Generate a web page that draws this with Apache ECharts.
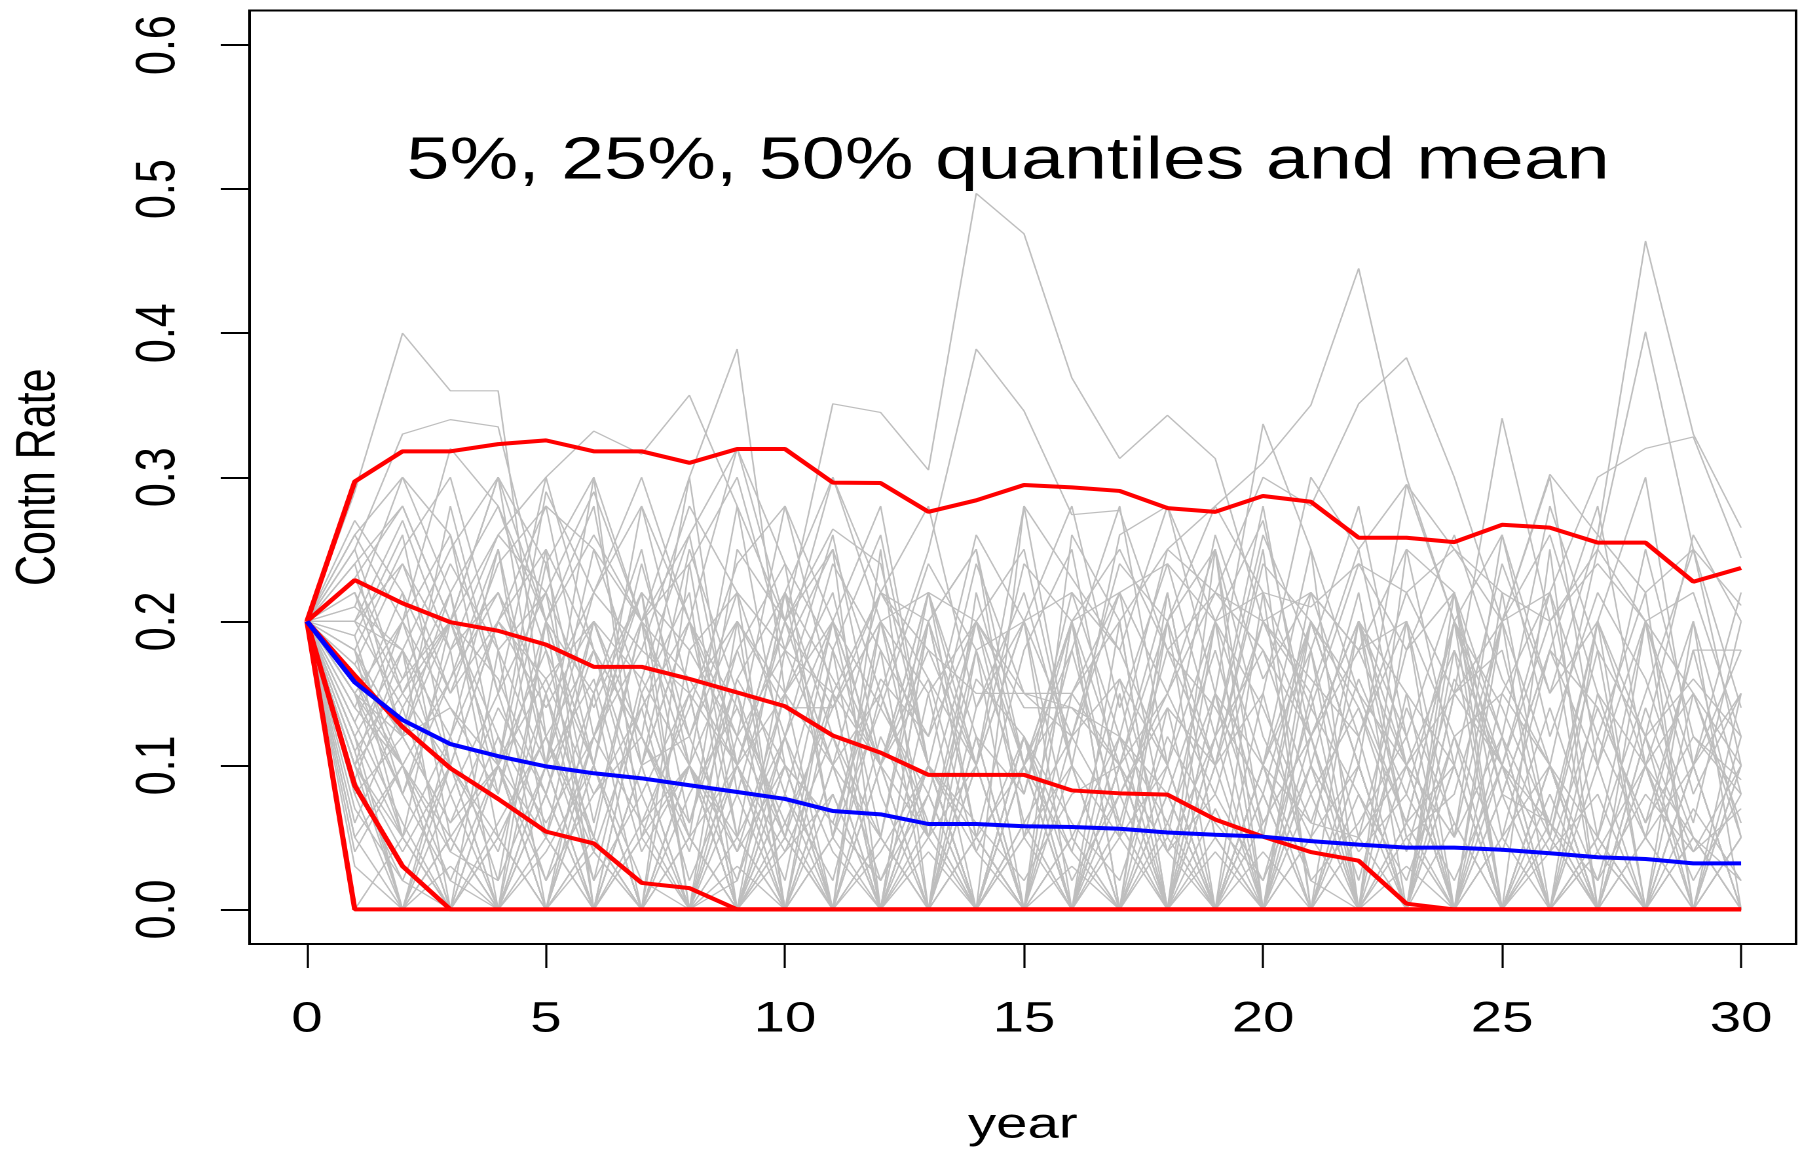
<!DOCTYPE html>
<html>
<head>
<meta charset="utf-8">
<script src="https://cdn.jsdelivr.net/npm/echarts@6/dist/echarts.min.js"></script>
<style>
html,body{margin:0;padding:0;background:#fff;overflow:hidden;width:1800px;height:1152px;}
#chart{width:1374px;height:1152px;transform:scaleX(1.31004);transform-origin:0 0;}
</style>
</head>
<body>
<div id="chart"></div>
<script>
// ---- data ----
const years = [0,1,2,3,4,5,6,7,8,9,10,11,12,13,14,15,16,17,18,19,20,21,22,23,24,25,26,27,28,29,30];
const xTicks = [0,5,10,15,20,25,30];
const yTicks = [0,0.1,0.2,0.3,0.4,0.5,0.6];
const titleText = '5%, 25%, 50% quantiles and mean';

// simulated paths (gray)
const grayPaths = [
[0.2,0.29,0.40,0.36,0.36,0.12,0.05,0,0.10,0,0,0.08,0,0,0.12,0,0,0,0.06,0,0,0,0.1,0,0,0,0,0.05,0,0,0],
[0.2,0.25,0.33,0.34,0.335,0.2,0.26,0.2,0.1,0,0.05,0,0,0,0,0.1,0,0,0,0,0,0.08,0,0,0,0,0,0,0,0,0],
[0.2,0.22,0.15,0.1,0.2,0.28,0.25,0.2,0.3,0.389,0.15,0.26,0.1,0,0.05,0,0,0.1,0,0,0,0,0,0,0,0,0,0,0,0,0],
[0.2,0.24,0.28,0.2,0.26,0.3,0.332,0.316,0.357,0.28,0.2,0.264,0.24,0.1,0.05,0,0,0,0,0.07,0,0,0,0,0,0,0.06,0,0,0,0],
[0.2,0.18,0.25,0.3,0.18,0.22,0.29,0.2,0.26,0.32,0.2,0.351,0.345,0.305,0.497,0.469,0.369,0.313,0.343,0.313,0.2,0.12,0.18,0.1,0.05,0.12,0,0,0,0,0],
[0.2,0.26,0.3,0.22,0.28,0.2,0.15,0.22,0.18,0.12,0.18,0.1,0.15,0.249,0.389,0.346,0.274,0.277,0.18,0.1,0.2,0.15,0.25,0.295,0.2,0.1,0,0.05,0,0,0],
[0.2,0.15,0.1,0.05,0,0.1,0,0.15,0.05,0,0.12,0.2,0.1,0.2,0.25,0.1,0.15,0.2,0.25,0.28,0.31,0.35,0.445,0.3,0.2,0.12,0.05,0,0.1,0,0],
[0.2,0.1,0,0.05,0.1,0,0,0.1,0.2,0.1,0,0.05,0.2,0.1,0,0.1,0.2,0.25,0.18,0.22,0.3,0.28,0.351,0.383,0.3,0.2,0.26,0.15,0.1,0.05,0],
[0.2,0.1,0.05,0,0,0.08,0,0,0,0.1,0,0,0,0.06,0,0,0,0.1,0,0.15,0.337,0.25,0.15,0.1,0.05,0.2,0.302,0.26,0.464,0.33,0.265],
[0.2,0.12,0,0.1,0.05,0,0.1,0,0,0,0.1,0,0.05,0,0,0.12,0,0,0,0,0.1,0,0.05,0,0.15,0.341,0.2,0.25,0.401,0.25,0.211],
[0.2,0.16,0.1,0,0,0,0.05,0,0.1,0,0,0,0.1,0,0.05,0,0,0.08,0,0,0.1,0.2,0.1,0.295,0.25,0.2,0.22,0.3,0.32,0.328,0.244],
[0.2,0.2,0.18,0.25,0.3,0.1,0.22,0.28,0.15,0.1,0.22,0.3,0.2,0.22,0.1,0.28,0.23,0.18,0.28,0.2,0.27,0.12,0.2,0.15,0.1,0,0,0,0,0,0],
[0.2,0.1,0.2,0.1,0,0.15,0.05,0.2,0,0.1,0.22,0.05,0,0.15,0,0,0.2,0,0.1,0,0,0.15,0,0,0.1,0,0,0,0.2,0,0],
[0.2,0.18,0.05,0.2,0.1,0.25,0,0.15,0.22,0,0.1,0,0.25,0,0.1,0.2,0,0,0.22,0.05,0,0,0.12,0,0,0.1,0,0.2,0,0,0.15],
[0.2,0.08,0,0.12,0.25,0.1,0.3,0.05,0.1,0.28,0.1,0,0.2,0.1,0,0.28,0.1,0,0,0.1,0.25,0,0,0.2,0,0,0,0,0,0.1,0],
[0.2,0.14,0.22,0.05,0,0.2,0.1,0,0.24,0.05,0,0.18,0,0,0.22,0.1,0,0.15,0,0.25,0,0,0.2,0,0.1,0,0.25,0,0,0,0],
[0.2,0.05,0,0,0.1,0,0.15,0,0,0.15,0,0.1,0,0.2,0.05,0,0.1,0,0.2,0,0.22,0,0,0,0.2,0,0,0.1,0,0.2,0],
[0.2,0,0,0.05,0,0,0.1,0,0,0,0.08,0,0,0,0,0,0.05,0,0,0,0,0,0,0.06,0,0,0,0,0,0,0],
[0.2,0,0.05,0,0.1,0,0,0.05,0,0,0,0.1,0,0,0,0.05,0,0,0,0,0.08,0,0,0,0,0,0.05,0,0,0,0],
[0.2,0.12,0.05,0,0,0.05,0,0,0.05,0,0,0,0,0.1,0,0,0,0,0,0.05,0,0,0,0,0,0.08,0,0,0,0,0.05],
[0.2,0.22,0.12,0.28,0.15,0.05,0.2,0.1,0.25,0.15,0.05,0.2,0.28,0.1,0,0.1,0.2,0.05,0,0.2,0.1,0.25,0,0,0.22,0,0.1,0,0,0.1,0.18],
[0.2,0.25,0.15,0.2,0.3,0.2,0.1,0.24,0.12,0.2,0.14,0.14,0.2,0.15,0.2,0.14,0.14,0.12,0.25,0.22,0.2,0.22,0.18,0.2,0.12,0.15,0.1,0,0,0,0.1],
[0.2,0.19,0.26,0.1,0.2,0.25,0.18,0.12,0.3,0.08,0.2,0.25,0,0.2,0.25,0.05,0.18,0.28,0.1,0,0.15,0.3,0.25,0.1,0,0.2,0.3,0.1,0.25,0.12,0.08],
[0.2,0.1,0.15,0.22,0.05,0.12,0.18,0.08,0,0.12,0.05,0,0.12,0.05,0,0.12,0,0.1,0,0.12,0,0.05,0.1,0,0.12,0,0,0.05,0,0,0.05],
[0.2,0.15,0.05,0.12,0.02,0.2,0,0.1,0,0.02,0.15,0,0,0.08,0,0,0,0.12,0,0,0,0,0.08,0,0,0,0,0,0,0.1,0],
[0.2,0.09,0.18,0,0.18,0,0.12,0.22,0,0.2,0,0.15,0,0,0.18,0,0,0.2,0,0,0,0.12,0,0,0,0.12,0,0,0,0,0],
[0.2,0.2,0.27,0.18,0.22,0.15,0.22,0.18,0.15,0.2,0.15,0.2,0.1,0.18,0.15,0.15,0.15,0.22,0.24,0.2,0.22,0.21,0.24,0.22,0.25,0.22,0.2,0.24,0.2,0.15,0.1],
[0.2,0.17,0.12,0.14,0.1,0.16,0.08,0.12,0.05,0.1,0.15,0.1,0.05,0,0.1,0,0.05,0.12,0.08,0,0.1,0.06,0.05,0.1,0,0.08,0.06,0,0,0.07,0.02],
[0.2,0.05,0.1,0,0.05,0,0,0,0.1,0.05,0,0,0,0.05,0.1,0,0,0.05,0.1,0,0,0,0.1,0,0,0.05,0,0,0.05,0,0],
[0.2,0.13,0.2,0.14,0.08,0.24,0.1,0,0.18,0.22,0,0.05,0.18,0,0.14,0.2,0.05,0,0.14,0.1,0,0.18,0,0.1,0.18,0,0,0.15,0.05,0,0.12],
[0.2,0.21,0.3,0.26,0.1,0.29,0.22,0.3,0.2,0.12,0.28,0.2,0.05,0.22,0.12,0,0.26,0.2,0,0.12,0.28,0.1,0,0.25,0.22,0.05,0.18,0.28,0.1,0,0],
[0.2,0.11,0,0.08,0,0,0.05,0,0,0,0,0,0,0,0,0,0,0,0,0,0,0,0,0,0,0,0,0,0,0,0],
[0.2,0.07,0.02,0,0,0,0,0,0.05,0,0,0,0,0,0,0.06,0,0,0,0,0,0,0,0,0,0,0,0,0,0,0],
[0.2,0.16,0.08,0.02,0.1,0.05,0,0,0,0.08,0,0,0.05,0,0,0,0,0,0.05,0,0,0,0,0.05,0,0,0,0,0,0.05,0],
[0.2,0.23,0.16,0.24,0.18,0.1,0.25,0.15,0.05,0.25,0.2,0.1,0.22,0.2,0.05,0,0.2,0.22,0.05,0.2,0,0.1,0.22,0.05,0,0.22,0.05,0.18,0,0.15,0.05],
[0.2,0.18,0.1,0.16,0.25,0.05,0.15,0.25,0.1,0,0.18,0.25,0.15,0.05,0.2,0.25,0.1,0.05,0.2,0.25,0.05,0.2,0.1,0,0.15,0.2,0.1,0.05,0.2,0.1,0.15],
[0.2,0.26,0.2,0.32,0.28,0.18,0.1,0.28,0.2,0.32,0.24,0.18,0.26,0.1,0.24,0.15,0.12,0.24,0.2,0.1,0.24,0.2,0.15,0.06,0.2,0.26,0.15,0.2,0.3,0.1,0.22],
[0.2,0,0,0,0.05,0,0,0.1,0,0,0.06,0,0,0,0,0,0,0,0,0,0,0,0,0,0,0,0.05,0,0,0,0],
[0.2,0.15,0.08,0.18,0,0.1,0,0.05,0.15,0,0.05,0.15,0,0.1,0,0.05,0.1,0,0,0.15,0,0.05,0,0.15,0,0,0.1,0,0.12,0,0],
[0.2,0.2,0.24,0.15,0.2,0.14,0.2,0.1,0.12,0.22,0.18,0.15,0.1,0.22,0.2,0.15,0.14,0.1,0.15,0.22,0.18,0.12,0.2,0.1,0.15,0.1,0.22,0.12,0.05,0.18,0.18],
[0.2,0.24,0.12,0.22,0.08,0.2,0.28,0.1,0.2,0.05,0.22,0.12,0.05,0.2,0.1,0,0.15,0.1,0.22,0.05,0,0.2,0.1,0,0.18,0.1,0.2,0,0.1,0.2,0.08],
[0.2,0.06,0.14,0.04,0.12,0.02,0.08,0.14,0.02,0.1,0.04,0.12,0.02,0.08,0,0.1,0.04,0,0.08,0,0.1,0.02,0,0.06,0.1,0,0.04,0.08,0,0.05,0],
[0.2,0.19,0.08,0.16,0.22,0.12,0.02,0.16,0.26,0.1,0.02,0.18,0.1,0.22,0.05,0.18,0.25,0.08,0.15,0.25,0.12,0.05,0.2,0.12,0,0.15,0.22,0.05,0.15,0.25,0.1],
[0.2,0.13,0.06,0,0.06,0.12,0.04,0,0.08,0.14,0.05,0,0.1,0.16,0.04,0,0.12,0.06,0,0.1,0.15,0.02,0.06,0.12,0,0.05,0.1,0,0.12,0.04,0.1],
[0.2,0.21,0.18,0.12,0.2,0.16,0.2,0.12,0.06,0.16,0.22,0.16,0.1,0.05,0.18,0.2,0.12,0.22,0.15,0.08,0.2,0.16,0.12,0.22,0.15,0.18,0.05,0.2,0.1,0.15,0.06],
[0.2,0.1,0.04,0.1,0,0.04,0.1,0.02,0,0.05,0.12,0,0.04,0.1,0,0.06,0,0.1,0.04,0,0.08,0,0.05,0.1,0,0,0.08,0,0.05,0.1,0],
[0.2,0.15,0.2,0.26,0.15,0.3,0.18,0.06,0.14,0.24,0.28,0.15,0.22,0.28,0.14,0.22,0.1,0.26,0.28,0.15,0.05,0.22,0.18,0.25,0.1,0.24,0.15,0.26,0.22,0.25,0.14],
[0.2,0.12,0.18,0.08,0.15,0.22,0.06,0.2,0.12,0.04,0.15,0.22,0.08,0,0.12,0.08,0.2,0,0.08,0.18,0.06,0.12,0.2,0.05,0.08,0.2,0,0.12,0.22,0,0.1],
[0.2,0.04,0.1,0.02,0,0.08,0,0.06,0,0,0.04,0.08,0,0,0.05,0.1,0,0.06,0,0.04,0,0.1,0,0,0.06,0,0,0.04,0,0,0.05],
[0.2,0.18,0.12,0.06,0.14,0.08,0.18,0.12,0.04,0.16,0.1,0.06,0.16,0.12,0.2,0.06,0.12,0.16,0.04,0.12,0.18,0.08,0.14,0.04,0.16,0.1,0.04,0.14,0.06,0.12,0.09],
[0.2,0.27,0.22,0.15,0.24,0.28,0.12,0.18,0.28,0.22,0.12,0.24,0.18,0.12,0.26,0.2,0.28,0.14,0.24,0.12,0.26,0.18,0.28,0.12,0.22,0.12,0.28,0.18,0.12,0.26,0.2],
[0.2,0.09,0.02,0.1,0.04,0.15,0.02,0.08,0.15,0,0.08,0.02,0.15,0.06,0,0.12,0.02,0.08,0.14,0,0.06,0.12,0.02,0.14,0.06,0,0.1,0.02,0.14,0.05,0.02],
[0.2,0.2,0.14,0.2,0.12,0.06,0.12,0.2,0.16,0.1,0.2,0.14,0.22,0.16,0.1,0.2,0.22,0.12,0.06,0.15,0.1,0.18,0.05,0.18,0.22,0.08,0.18,0.1,0.2,0.08,0.15],
[0.2,0.14,0.1,0.04,0.02,0.1,0.16,0.04,0.1,0.02,0.12,0.04,0,0.1,0.04,0.12,0.06,0.02,0.12,0.06,0.02,0.14,0.08,0.02,0.12,0.04,0.14,0.04,0.1,0.02,0.08],
[0.2,0.17,0.24,0.18,0.26,0.22,0.14,0.22,0.06,0.18,0.24,0.05,0.14,0.24,0.18,0.08,0.22,0.18,0.1,0.26,0.16,0.22,0.12,0.2,0.05,0.26,0.12,0.22,0.16,0.06,0.2],
[0.2,0.11,0.16,0.2,0.1,0.18,0.04,0.14,0.2,0.14,0.06,0.14,0.2,0.05,0.16,0.12,0.04,0.16,0.1,0.2,0.14,0.06,0.16,0.08,0.2,0.14,0.06,0.2,0.12,0.16,0.12],
[0.2,0.03,0,0.03,0,0,0.04,0,0,0.03,0,0,0,0.04,0,0,0.03,0,0,0,0.04,0,0,0.03,0,0,0,0.04,0,0,0],
[0.2,0.23,0.28,0.2,0.3,0.24,0.3,0.2,0.24,0.3,0.18,0.3,0.22,0.18,0.1,0.24,0.2,0.1,0.2,0.28,0.22,0.14,0.24,0.18,0.26,0.16,0.1,0.25,0.2,0.22,0.12],
[0.2,0.15,0.12,0.2,0.16,0.08,0.2,0.16,0.1,0.18,0.08,0.2,0.14,0.08,0.2,0.1,0.18,0.06,0.18,0.14,0.08,0.2,0.14,0.06,0.2,0.08,0.18,0.14,0.06,0.18,0.05],
[0.2,0.08,0.12,0.06,0.1,0.02,0.12,0.06,0.1,0.04,0.1,0.06,0.02,0.1,0.06,0.02,0.08,0.1,0.04,0.08,0.02,0.1,0.04,0.08,0.02,0.1,0.06,0.02,0.08,0.04,0.07]
];

// quantile lines (red)
const q95 = [0.2,0.297,0.318,0.318,0.323,0.3256,0.318,0.318,0.310,0.3196,0.3196,0.2963,0.296,0.276,0.284,0.2946,0.293,0.2905,0.2786,0.276,0.287,0.283,0.258,0.258,0.255,0.267,0.265,0.2546,0.2546,0.2275,0.237];
const q75 = [0.2,0.2286,0.2125,0.1994,0.1934,0.1838,0.1684,0.1684,0.160,0.1506,0.141,0.1207,0.1088,0.0934,0.0934,0.0934,0.0826,0.0806,0.0797,0.0624,0.0505,0.0398,0.0338,0.004,0,0,0,0,0,0,0];
const q50 = [0.2,0.1624,0.1267,0.098,0.0767,0.054,0.0458,0.0184,0.0148,0,0,0,0,0,0,0,0,0,0,0,0,0,0,0,0,0,0,0,0,0,0];
const q25 = [0.2,0.086,0.03,0,0,0,0,0,0,0,0,0,0,0,0,0,0,0,0,0,0,0,0,0,0,0,0,0,0,0,0];
const q05 = [0.2,0,0,0,0,0,0,0,0,0,0,0,0,0,0,0,0,0,0,0,0,0,0,0,0,0,0,0,0,0,0];
// mean (blue)
const meanLine = [0.2,0.1577,0.1315,0.1148,0.1064,0.0993,0.0945,0.091,0.0862,0.0815,0.0767,0.0683,0.066,0.0593,0.0593,0.0577,0.0572,0.056,0.0534,0.0518,0.0505,0.0474,0.045,0.0429,0.0429,0.0414,0.039,0.0362,0.035,0.032,0.032];

// ---- chart ----
const FONT = '"Liberation Sans", Arial, Helvetica, sans-serif';
const toXY = arr => arr.map((v, i) => [years[i], v]);
const series = [];
grayPaths.forEach(p => series.push({
  type: 'line', data: toXY(p), symbol: 'none', silent: true,
  lineStyle: { color: '#BEBEBE', width: 1.2 }, z: 1
}));
[q05, q25, q50, q75, q95].forEach(q => series.push({
  type: 'line', data: toXY(q), symbol: 'none', silent: true,
  lineStyle: { color: '#FF0000', width: 4 }, z: 2
}));
series.push({
  type: 'line', data: toXY(meanLine), symbol: 'none', silent: true,
  lineStyle: { color: '#0000FF', width: 4 }, z: 3
});

const chart = echarts.init(document.getElementById('chart'), null, { renderer: 'canvas', devicePixelRatio: 2 });
chart.setOption({
  animation: false,
  backgroundColor: '#ffffff',
  grid: { left: 189.3, right: 3.0, top: 10.5, bottom: 203.5, show: true, borderColor: '#000', borderWidth: 2, backgroundColor: 'transparent' },
  xAxis: {
    type: 'value', min: -1.2, max: 31.15,
    name: 'year', nameLocation: 'middle', nameGap: 160,
    nameTextStyle: { fontSize: 43, color: '#000', fontFamily: FONT },
    axisLine: { show: false, onZero: false },
    splitLine: { show: false },
    axisTick: { show: true, length: 24, customValues: xTicks, lineStyle: { color: '#000', width: 1.6 } },
    axisLabel: { customValues: xTicks, fontSize: 43, margin: 54, color: '#000', fontFamily: FONT, formatter: v => String(v) }
  },
  yAxis: {
    type: 'value', min: -0.024, max: 0.624,
    name: 'Contn Rate', nameLocation: 'middle', nameGap: 139.5, nameRotate: 90,
    nameTextStyle: { fontSize: 43, color: '#000', fontFamily: FONT },
    axisLine: { show: false, onZero: false },
    splitLine: { show: false },
    axisTick: { show: true, length: 22, customValues: yTicks, lineStyle: { color: '#000', width: 2 } },
    axisLabel: { customValues: yTicks, rotate: 90, fontSize: 43, margin: 48, color: '#000', fontFamily: FONT, formatter: v => v.toFixed(1) }
  },
  graphic: [{
    type: 'text', x: 769.5, y: 162, silent: true,
    style: { text: titleText, fontSize: 59, fontFamily: FONT, fill: '#000', textAlign: 'center', textVerticalAlign: 'middle' }
  }],
  series: series
});
</script>
</body>
</html>
